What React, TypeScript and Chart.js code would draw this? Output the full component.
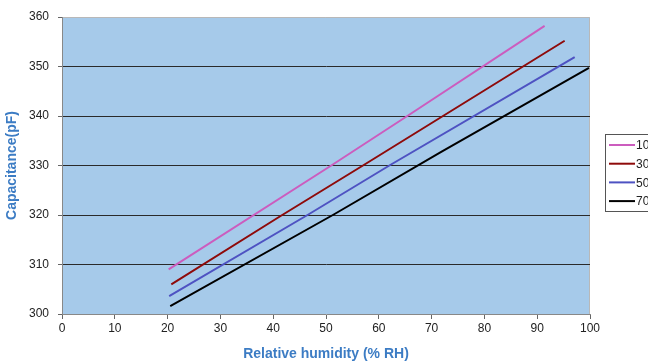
import React, { useEffect, useRef } from "react";
import { Chart, registerables } from "chart.js";

Chart.register(...registerables);

const seriesLabels = ["10", "30", "50", "70"];
const seriesColors = ["#CC5CBE", "#8E0A0A", "#4E52C2", "#000000"];
const pinkX = [20.2, 51, 65.4, 91.4];
const pinkY = [309, 330, 340, 358.2];
const redX = [20.7, 41.4, 57, 95.2];
const redY = [306, 319.8, 330, 355.2];
const blueX = [20.3, 46.5, 62, 97.1];
const blueY = [303.6, 320, 330, 351.9];
const blackX = [20.5, 51.3, 71.9, 99.8];
const blackY = [301.6, 320, 332.8, 349.7];
const xTitle = "Relative humidity (% RH)";
const yTitle = "Capacitance(pF)";

const FONT = "'Liberation Sans', Arial, sans-serif";

function pts(xs: number[], ys: number[]) {
  return xs.map((x, i) => ({ x, y: ys[i] }));
}

const bgPlugin = {
  id: "bgPlugin",
  beforeDraw(chart: any) {
    const { ctx, chartArea: a } = chart;
    ctx.save();
    ctx.fillStyle = "#A6CAEA";
    ctx.fillRect(a.left, a.top, a.right - a.left, a.bottom - a.top);
    ctx.strokeStyle = "#B8B8B8";
    ctx.lineWidth = 1;
    ctx.beginPath();
    ctx.moveTo(a.left, a.top + 0.5);
    ctx.lineTo(a.right - 0.5, a.top + 0.5);
    ctx.lineTo(a.right - 0.5, a.bottom);
    ctx.stroke();
    ctx.restore();
  },
  afterDraw(chart: any) {
    const { ctx } = chart;
    ctx.save();
    const bx = 605.5, by = 134.5, bw = 60, bh = 77;
    ctx.fillStyle = "#FFFFFF";
    ctx.fillRect(bx, by, bw, bh);
    ctx.strokeStyle = "#555555";
    ctx.lineWidth = 1;
    ctx.strokeRect(bx, by, bw, bh);
    ctx.font = "12px " + FONT;
    ctx.textBaseline = "middle";
    chart.data.datasets.forEach((ds: any, i: number) => {
      const y = 145 + i * 18.7;
      ctx.strokeStyle = ds.borderColor;
      ctx.lineWidth = 2;
      ctx.beginPath();
      ctx.moveTo(609, y);
      ctx.lineTo(635, y);
      ctx.stroke();
      ctx.fillStyle = "#222222";
      ctx.fillText(ds.label, 636, y + 1);
    });
    ctx.restore();
  },
};

export default function App() {
  const ref = useRef<HTMLCanvasElement>(null);
  useEffect(() => {
    document.body.style.margin = "0";
    const xs = [pinkX, redX, blueX, blackX];
    const ys = [pinkY, redY, blueY, blackY];
    const chart = new Chart(ref.current!, {
      type: "line",
      data: {
        datasets: seriesLabels.map((l, i) => ({
          label: l,
          data: pts(xs[i], ys[i]),
          borderColor: seriesColors[i],
          backgroundColor: seriesColors[i],
          borderWidth: 2,
          pointRadius: 0,
          tension: 0,
        })),
      },
      options: {
        animation: false,
        responsive: false,
        maintainAspectRatio: false,
        layout: { padding: { left: 0, right: 58, top: 17, bottom: 0 } },
        plugins: { legend: { display: false }, tooltip: { enabled: false } },
        scales: {
          x: {
            type: "linear",
            min: 0,
            max: 100,
            ticks: { stepSize: 10, color: "#222", font: { size: 12, family: FONT }, padding: 2 },
            grid: { drawOnChartArea: false, drawTicks: true, tickLength: 5, tickColor: "#666" },
            border: { color: "#888", width: 1 },
            title: {
              display: true,
              text: xTitle,
              color: "#3C7CC4",
              font: { size: 14, weight: "bold", family: FONT },
              padding: { top: 4, bottom: 0 },
            },
            afterFit(scale: any) {
              scale.height = 49;
            },
          },
          y: {
            min: 300,
            max: 360,
            ticks: { stepSize: 10, color: "#222", font: { size: 12, family: FONT }, padding: 9 },
            grid: {
              color: (c: any) =>
                c.tick && c.tick.value > 300 && c.tick.value < 360 ? "#2A2A2A" : "rgba(0,0,0,0)",
              tickColor: "#666",
              tickLength: 4,
              lineWidth: 1,
            },
            border: { color: "#888", width: 1 },
            title: {
              display: true,
              text: yTitle,
              color: "#3C7CC4",
              font: { size: 14, weight: "bold", family: FONT },
              padding: { top: 4, bottom: 0 },
            },
            afterFit(scale: any) {
              scale.width = 62;
            },
          },
        },
      },
      plugins: [bgPlugin],
    } as any);
    return () => chart.destroy();
  }, []);
  return (
    <div style={{ width: 648, height: 363 }}>
      <canvas ref={ref} width={648} height={363} style={{ display: "block" }} />
    </div>
  );
}
